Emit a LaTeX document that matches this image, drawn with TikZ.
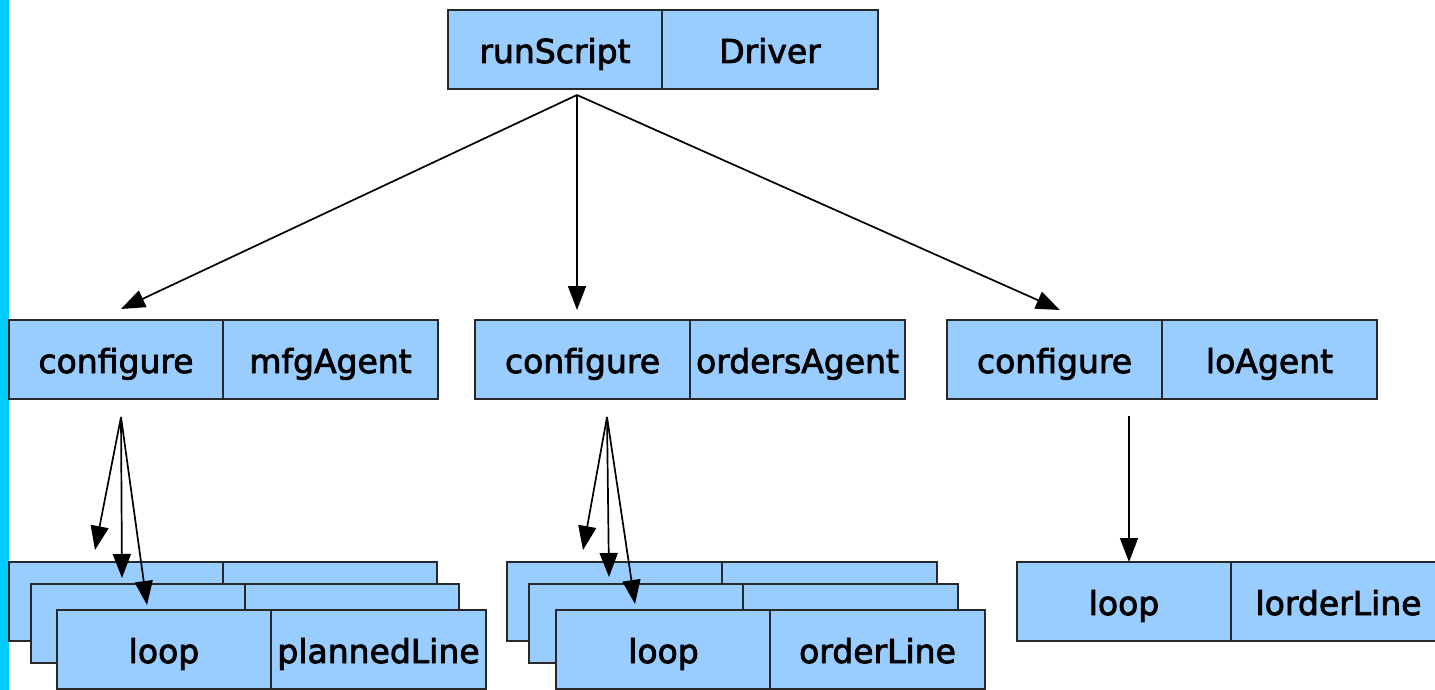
\documentclass[tikz,border=0pt]{standalone}
\usepackage{fontspec}
\setmainfont[FakeBold=2.5]{DejaVu Sans}
\usetikzlibrary{arrows.meta}

\definecolor{cellblue}{RGB}{153,204,255}
\definecolor{edgegray}{RGB}{40,40,40}
\definecolor{stripcyan}{RGB}{0,204,255}

\tikzset{
  cell/.style={draw=edgegray, line width=2pt, fill=cellblue, anchor=north west,
    minimum width=215pt, minimum height=79pt, inner sep=0pt, outer sep=0pt,
    font=\fontsize{33}{40}\selectfont, text height=27pt, text depth=0pt},
  wcell/.style={cell, minimum width=214pt},
  link/.style={draw=black, line width=1.7pt,
    -{Triangle[length=24pt,width=18pt]}},
}

\begin{document}
\begin{tikzpicture}[x=1pt,y=-1pt]
  \clip (0,0) rectangle (1435,690);
  \fill[white] (0,0) rectangle (1435,690);
  \fill[stripcyan] (0,0) rectangle (9,690);

  % root
  \node[cell, minimum width=214pt] (rsL) at (448,10) {runScript};
  \node[cell, minimum width=216pt] (rsR) at (662,10) {Driver};

  % agents
  \node[wcell] (mfgL) at (9,320) {configure};
  \node[cell] (mfgR) at (223,320) {mfgAgent};
  \node[cell] (ordL) at (475,320) {configure};
  \node[cell] (ordR) at (690,320) {ordersAgent};
  \node[cell] (loL) at (947,320) {configure};
  \node[cell] (loR) at (1162,320) {loAgent};

  % mfgAgent loop stack
  \node[wcell] (mfgA1) at (9,562) {};
  \node[wcell] (mfgB1) at (223,562) {};
  \node[wcell] (mfgA2) at (31,584) {};
  \node[wcell] (mfgB2) at (245,584) {};
  \node[wcell] (mfgA3) at (57,610) {loop};
  \node[cell]  (mfgB3) at (271,610) {plannedLine};

  % ordersAgent loop stack
  \node[cell] (ordA1) at (507,562) {};
  \node[cell] (ordB1) at (722,562) {};
  \node[cell] (ordA2) at (529,584) {};
  \node[cell] (ordB2) at (743,584) {};
  \node[cell] (ordA3) at (556,610) {loop};
  \node[cell] (ordB3) at (770,610) {orderLine};

  % loAgent loop
  \node[wcell] (loA) at (1017,562) {loop};
  \node[cell]  (loB) at (1231,562) {lorderLine};

  % connector end points
  \coordinate (rsOut) at (577,95);
  \coordinate (mfgIn) at (121,309);
  \coordinate (ordIn) at (577,310);
  \coordinate (loIn)  at (1060,310);

  \coordinate (mfgOut) at (121,417);
  \coordinate (mfgT1) at (95,550);
  \coordinate (mfgT2) at (122,578);
  \coordinate (mfgT3) at (147,605);

  \coordinate (ordOut) at (607,417);
  \coordinate (ordT1) at (583,550);
  \coordinate (ordT2) at (609,577);
  \coordinate (ordT3) at (635,604);

  \coordinate (loOut) at (1129,416);
  \coordinate (loT)   at (1129,562);

  \draw[link] (rsOut) -- (mfgIn);
  \draw[link] (rsOut) -- (ordIn);
  \draw[link] (rsOut) -- (loIn);

  \draw[link] (mfgOut) -- (mfgT1);
  \draw[link] (mfgOut) -- (mfgT2);
  \draw[link] (mfgOut) -- (mfgT3);

  \draw[link] (ordOut) -- (ordT1);
  \draw[link] (ordOut) -- (ordT2);
  \draw[link] (ordOut) -- (ordT3);

  \draw[link] (loOut) -- (loT);
\end{tikzpicture}
\end{document}
